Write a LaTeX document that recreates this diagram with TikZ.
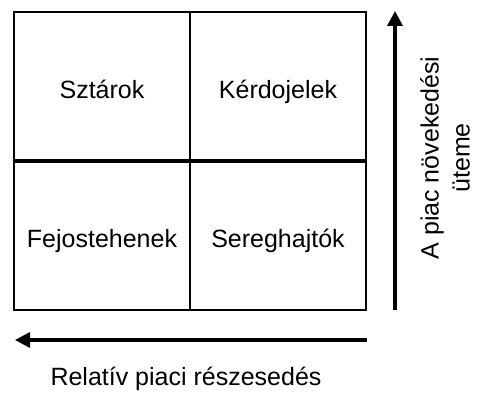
\documentclass[tikz,border=0pt]{standalone}
\usepackage{fontspec}
\setmainfont{Liberation Sans}
\usetikzlibrary{arrows.meta, positioning}

\begin{document}
\begin{tikzpicture}[
    x=1pt, y=1pt,
    quadrant/.style={rectangle, draw, line width=2.7pt, outer sep=0pt, minimum width=176pt, minimum height=149pt, text height=26pt, text depth=1pt, font=\fontsize{25}{32}\selectfont},
    axisarrow/.style={-{Triangle[length=15pt, width=15pt]}, line width=3.4pt},
    axislabel/.style={font=\fontsize{25}{31}\selectfont, align=center}
]
    \useasboundingbox (0,0) rectangle (478,396);
    \node[quadrant] (sztarok) at (102,309.5) {Sztárok};
    \node[quadrant, right=0pt of sztarok] (kerdojelek) {Kérdojelek};
    \node[quadrant, below=0pt of sztarok] (fejostehenek) {Fejostehenek};
    \node[quadrant, right=0pt of fejostehenek] (sereghajtok) {Sereghajtók};
    \draw[line width=4.5pt] (fejostehenek.north west) -- (sereghajtok.north east);

    \coordinate (growthstart) at (395,86);
    \coordinate (growthend) at (395,385);
    \coordinate (sharestart) at (367,56);
    \coordinate (shareend) at (15,56);
    \draw[axisarrow] (growthstart) -- (growthend);
    \draw[axisarrow] (sharestart) -- (shareend);

    \node[axislabel, anchor=base] (sharelabel) at (186,11) {Relatív piaci részesedés};
    \node[axislabel, rotate=90] (growthlabel) at (445,238) {A piac növekedési\\üteme};
\end{tikzpicture}
\end{document}
